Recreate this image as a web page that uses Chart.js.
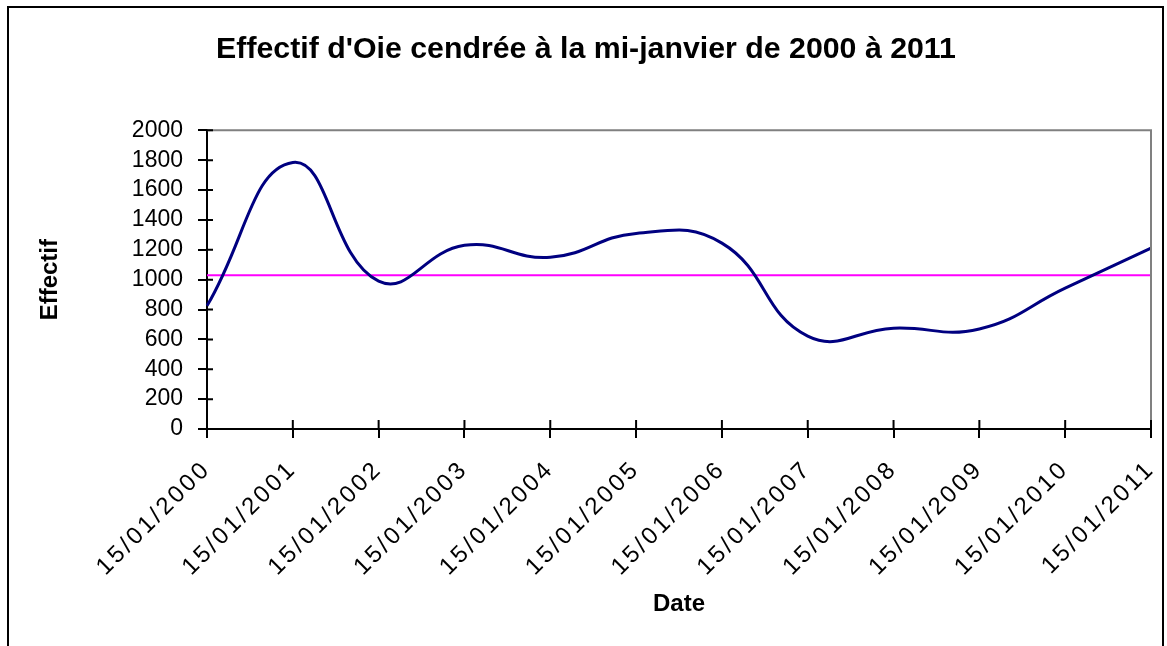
<!DOCTYPE html>
<html>
<head>
<meta charset="utf-8">
<script src="https://cdn.jsdelivr.net/npm/chart.js@4"></script>
<style>
  body { margin: 0; background: #fff; }
  #wrap { width: 1167px; height: 646px; }
</style>
</head>
<body>
<div id="wrap"><canvas id="oieChart"></canvas></div>
<script>
const dates = ['15/01/2000', '15/01/2001', '15/01/2002', '15/01/2003', '15/01/2004', '15/01/2005',
               '15/01/2006', '15/01/2007', '15/01/2008', '15/01/2009', '15/01/2010', '15/01/2011'];
const effectif = [825, 1785, 990, 1230, 1150, 1310, 1245, 622, 675, 670, 943, 1211];
const moyenne = [1030, 1030, 1030, 1030, 1030, 1030, 1030, 1030, 1030, 1030, 1030, 1030];
const yTicks = [0, 200, 400, 600, 800, 1000, 1200, 1400, 1600, 1800, 2000];

// gray top/right edge of the plot, inner half of tick marks, outer frame
const framePlugin = {
    id: 'frame',
    afterDraw(chart) {
        const { ctx, chartArea: a, scales: { x, y } } = chart;
        ctx.save();
        ctx.strokeStyle = '#808080';
        ctx.lineWidth = 2;
        ctx.beginPath();
        ctx.moveTo(a.left, a.top);
        ctx.lineTo(a.right, a.top);
        ctx.lineTo(a.right, a.bottom);
        ctx.stroke();

        ctx.strokeStyle = '#000';
        ctx.beginPath();
        y.ticks.forEach((t, i) => {
            const py = y.getPixelForTick(i);
            ctx.moveTo(a.left, py);
            ctx.lineTo(a.left + 6, py);
        });
        x.ticks.forEach((t, i) => {
            const px = x.getPixelForTick(i);
            ctx.moveTo(px, a.bottom);
            ctx.lineTo(px, a.bottom - 9);
        });
        ctx.stroke();

        ctx.strokeRect(8, 7, 1155, 660);
        ctx.restore();
    }
};

const ctx = document.getElementById('oieChart').getContext('2d');
const chart = new Chart(ctx, {
    type: 'line',
    data: {
        labels: dates,
        datasets: [{
            label: 'Effectif',
            data: effectif,
            borderColor: '#000080',
            borderWidth: 3,
            pointRadius: 0,
            tension: 0.45,
            fill: false
        }, {
            label: 'Moyenne',
            data: moyenne,
            borderColor: '#ff00ff',
            borderWidth: 2,
            pointRadius: 0,
            tension: 0,
            fill: false
        }]
    },
    options: {
        responsive: true,
        maintainAspectRatio: false,
        animation: false,
        layout: { padding: { left: 21, right: 16, top: 0, bottom: 0 } },
        plugins: {
            legend: { display: false },
            tooltip: { enabled: false },
            title: {
                display: true,
                text: "Effectif d'Oie cendrée à la mi-janvier de 2000 à 2011",
                color: '#000',
                font: { family: 'Liberation Sans', size: 30.3, weight: 'bold' },
                padding: { top: 31, bottom: 63 }
            }
        },
        scales: {
            x: {
                offset: false,
                grid: { drawOnChartArea: false, color: '#000', lineWidth: 2, tickLength: 9 },
                border: { color: '#000', width: 2 },
                ticks: {
                    color: '#000',
                    font: { family: 'Liberation Sans', size: 24 },
                    minRotation: 45,
                    maxRotation: 45,
                    autoSkip: false,
                    padding: 17
                },
                title: {
                    display: true,
                    text: 'Date',
                    color: '#000',
                    font: { family: 'Liberation Sans', size: 24, weight: 'bold' },
                    padding: { top: 0, bottom: 27.6 }
                },
                afterFit(s) {
                    s.height = 217;
                    s.paddingLeft = 0;
                    s.paddingRight = 0;
                }
            },
            y: {
                min: 0,
                max: 2000,
                afterBuildTicks(s) { s.ticks = yTicks.map(v => ({ value: v })); },
                grid: { drawOnChartArea: false, color: '#000', lineWidth: 2, tickLength: 9 },
                border: { color: '#000', width: 2 },
                ticks: {
                    color: '#000',
                    font: { family: 'Liberation Sans', size: 23 },
                    padding: 15,
                    autoSkip: false,
                    callback: v => String(v)
                },
                title: {
                    display: true,
                    text: 'Effectif',
                    color: '#000',
                    font: { family: 'Liberation Sans', size: 24, weight: 'bold' },
                    padding: { top: 14.6, bottom: 0 }
                },
                afterFit(s) { s.width = 186; }
            }
        }
    },
    plugins: [framePlugin]
});

// the rotated date labels are spaced out a little, like in the original
const xScale = chart.scales.x;
const drawLabels = xScale.drawLabels;
xScale.drawLabels = function (area) {
    this.ctx.save();
    this.ctx.letterSpacing = '3px';
    drawLabels.call(this, area);
    this.ctx.restore();
};
chart.draw();
</script>
</body>
</html>
